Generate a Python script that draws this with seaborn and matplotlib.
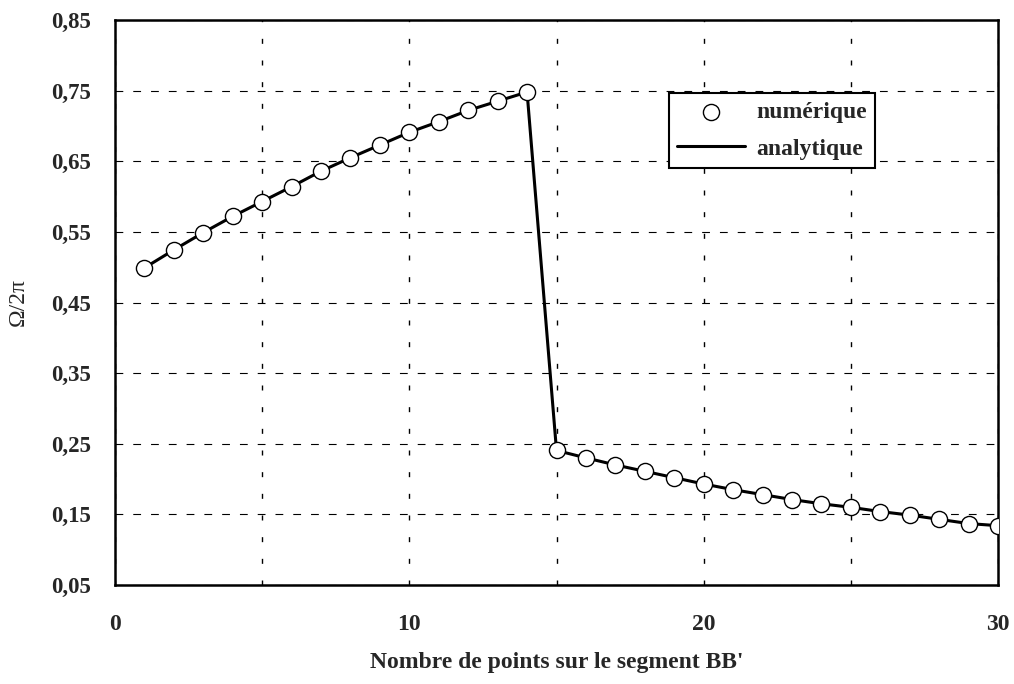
import matplotlib
matplotlib.use("Agg")
import matplotlib.pyplot as plt
import seaborn as sns
import pandas as pd
from matplotlib.ticker import MultipleLocator, FuncFormatter

# Data
n_points = list(range(1, 31))
omega_num = [0.499, 0.5245, 0.549, 0.572, 0.593, 0.614, 0.636, 0.655, 0.673, 0.691,
             0.706, 0.722, 0.735, 0.748,
             0.2405, 0.230, 0.220, 0.211, 0.202, 0.193, 0.185, 0.178, 0.171, 0.165,
             0.160, 0.154, 0.149, 0.143, 0.137, 0.134]
y_ticks = [0.05, 0.15, 0.25, 0.35, 0.45, 0.55, 0.65, 0.75, 0.85]
x_tick_labels = [0, 10, 20, 30]

df = pd.DataFrame({"n": n_points, "omega": omega_num})

sns.set_theme(style="white")
plt.rcParams['font.family'] = ['Liberation Serif', 'DejaVu Serif']

fig = plt.figure(figsize=(10.14, 6.84), dpi=100)
ax = fig.add_axes([115/1014, 1 - 585/684, (998-115)/1014, (585-20)/684])

sns.lineplot(data=df, x="n", y="omega", ax=ax, color="black", linewidth=2.2,
             label="analytique", zorder=3)
sns.scatterplot(data=df, x="n", y="omega", ax=ax, marker="o", s=135,
                facecolor="white", edgecolor="black", linewidth=1.0,
                label="numérique", zorder=4)

ax.set_xlim(0, 30)
ax.set_ylim(0.05, 0.85)
ax.set_yticks(y_ticks)
ax.yaxis.set_major_formatter(FuncFormatter(lambda v, p: f"{v:.2f}".replace(".", ",")))
ax.set_xticks(x_tick_labels)
ax.xaxis.set_minor_locator(MultipleLocator(5))

ax.grid(True, which="major", axis="y", color="black", linestyle=(0, (7, 9)), linewidth=0.8)
ax.grid(True, which="both", axis="x", color="black", linestyle=(0, (3.6, 12)), linewidth=1.0)

for s in ax.spines.values():
    s.set_color("black")
    s.set_linewidth(1.8)

ax.tick_params(axis="both", which="both", direction="in", color="black",
               length=6, width=1.2)
ax.tick_params(axis="y", labelsize=16.5, pad=17)
ax.tick_params(axis="x", labelsize=17, pad=21)
for lab in ax.get_xticklabels() + ax.get_yticklabels():
    lab.set_fontweight("bold")

ax.set_xlabel("Nombre de points sur le segment BB'", fontsize=17, fontweight="bold", labelpad=12)
ax.set_ylabel("Ω/2π", fontsize=17)
ax.yaxis.set_label_coords(-(115 - 29) / 883, 0.5)

handles, labels = ax.get_legend_handles_labels()
order = [labels.index("numérique"), labels.index("analytique")]
leg = ax.legend([handles[i] for i in order], [labels[i] for i in order],
                loc="upper left", bbox_to_anchor=((669-115)/883, (585-93)/565),
                borderaxespad=0,
                frameon=True, fancybox=False, framealpha=1, edgecolor="black",
                prop={"family": "Liberation Serif", "weight": "bold", "size": 17},
                handlelength=2.85, handletextpad=0.5, borderpad=0.35, labelspacing=0.65)
leg.get_frame().set_linewidth(1.5)

fig.savefig("out.png", dpi=100)
